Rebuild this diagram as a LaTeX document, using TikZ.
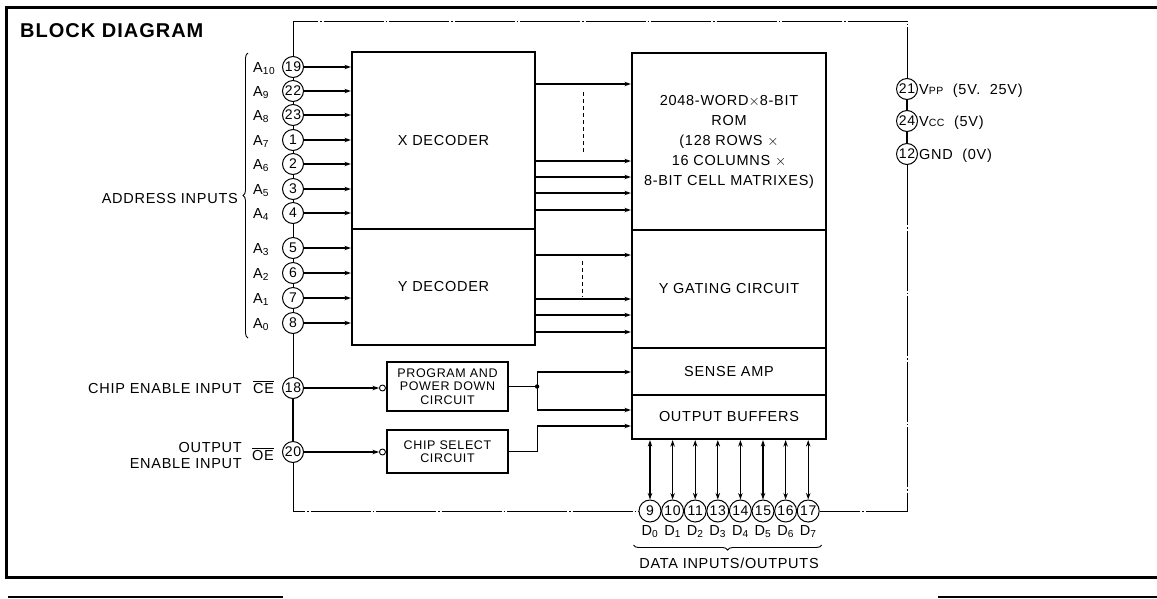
\documentclass[tikz,border=0pt]{standalone}
\usepackage{fontspec}
\setmainfont[LetterSpace=5]{Liberation Sans}
\usetikzlibrary{arrows.meta,decorations.pathreplacing,calc}
\newcommand\fsz[2]{\fontsize{#1}{#2}\selectfont}
\begin{document}
\begin{tikzpicture}[x=1pt,y=-1pt,
  box/.style={draw,line width=2.2pt,inner sep=0pt,align=center,font=\fsz{14.5}{20}},
  smallbox/.style={draw,line width=2.2pt,inner sep=0pt,align=center,font=\fsz{12.5}{13.5}},
  pin/.style={draw,circle,line width=1pt,inner sep=0pt,minimum size=21pt,font=\fsz{14}{14}},
  dpin/.style={draw,circle,line width=1pt,inner sep=0pt,minimum size=22pt,font=\fsz{14}{14}},
  lbl/.style={inner sep=0pt,font=\fsz{14.5}{16}},
  arr/.style={-{Stealth[length=6.5pt,width=4.5pt]},line width=1.1pt},
  darr/.style={{Stealth[length=6.5pt,width=4.5pt]}-{Stealth[length=6.5pt,width=4.5pt]},line width=1.1pt},
  wire/.style={line width=1.1pt},
  chip/.style={line width=0.9pt,dash pattern=on 60pt off 2pt on 1.5pt off 2pt},
  bubble/.style={circle,draw,inner sep=0pt,minimum size=6pt,line width=0.9pt},
  brc/.style={decorate,decoration={brace,amplitude=5pt},line width=0.9pt}]
\useasboundingbox (0,0) rectangle (1157,598);
\fill[white] (0,0) rectangle (1157,598);
% frame
\draw[line width=3pt] (1157,7) -- (6,7) -- (6,577) -- (1157,577);
\draw[line width=1.8pt] (8,597) -- (283,597);
\draw[line width=1.8pt] (938,597) -- (1157,597);
\node[anchor=base west,inner sep=0pt,font=\bfseries\fsz{20}{22}] (title) at (20,37) {BLOCK DIAGRAM};

% blocks
\node[box,minimum width=183pt,minimum height=177pt] (xdec) at (443.5,140.5) {X DECODER};
\node[box,minimum width=183pt,minimum height=116pt] (ydec) at (443.5,287) {Y DECODER};
\node[box,minimum width=194pt,minimum height=177pt] (rom) at (729,141.5) {2048-WORD$\times$8-BIT\\ROM\\(128 ROWS $\times$\\16 COLUMNS $\times$\\8-BIT CELL MATRIXES)};
\node[box,minimum width=194pt,minimum height=118pt] (ygate) at (729,289) {Y GATING CIRCUIT};
\node[box,minimum width=194pt,minimum height=47pt] (sense) at (729,371.5) {SENSE AMP};
\node[box,minimum width=194pt,minimum height=44pt] (ob) at (729,417) {OUTPUT BUFFERS};
\node[smallbox,minimum width=121pt,minimum height=49pt] (prog) at (447.5,386.5) {PROGRAM AND\\POWER DOWN\\CIRCUIT};
\node[smallbox,minimum width=121pt,minimum height=43pt] (cs) at (447.5,451.5) {CHIP SELECT\\CIRCUIT};

% address pins
\foreach \n/\yy/\s [count=\i] in {19/67/10,22/91/9,23/115/8,1/140/7,2/164/6,3/189/5,4/213/4,5/248/3,6/273/2,7/298/1,8/323/0} {
  \node[pin] (pa\i) at (293,\yy) {\n};
  \node[lbl,anchor=base west] (la\i) at (253,\yy+5) {A\textsubscript{\s}};
  \ifnum\i<8
    \draw[arr] (pa\i.east) -- (pa\i.east -| xdec.west);
  \else
    \draw[arr] (pa\i.east) -- (pa\i.east -| ydec.west);
  \fi
}
\foreach \i [evaluate=\i as \j using int(\i+1)] in {1,...,10} {
  \draw[chip] (pa\i.south) -- (pa\j.north);
}
\coordinate (bt) at (248,53);
\coordinate (bb) at (248,338);
\draw[brc] (bb) -- (bt);
\node[lbl,anchor=base east] (addr) at (238,203) {ADDRESS INPUTS};

% control pins
\node[pin] (p18) at (293,388) {18};
\node[pin] (p20) at (293,452) {20};
\draw[chip] (pa11.south) -- (p18.north);
\draw[wire] (p18.south) -- (p20.north);
\node[lbl,anchor=base east] (cel) at (242,393) {CHIP ENABLE INPUT};
\node[lbl,anchor=base west] (ce) at (253,393) {$\overline{\mbox{CE}}$};
\node[lbl,anchor=base east,align=right,font=\fsz{14.5}{16}] (oel) at (242,468) {OUTPUT\\ENABLE INPUT};
\node[lbl,anchor=base west] (oe) at (252,460) {$\overline{\mbox{OE}}$};

\node[bubble,anchor=east] (b1) at (prog.west |- p18) {};
\node[bubble,anchor=east] (b2) at (cs.west |- p20) {};
\draw[arr] (p18.east) -- (b1.west);
\draw[arr] (p20.east) -- (b2.west);

\coordinate (j1) at ($(prog.east)+(28,0)$);
\coordinate (ysa) at (0,372);
\coordinate (yob1) at (0,410);
\coordinate (yob2) at (0,426);
\draw[wire] (prog.east) -- (j1);
\fill (j1) circle (2.2pt);
\draw[arr] (j1) |- (sense.west |- ysa);
\draw[arr] (j1) |- (ob.west |- yob1);
\coordinate (j2) at (j1 |- yob2);
\draw[arr] (cs.east) -| (j2) -- (ob.west |- yob2);

% decoder to array
\foreach \yy in {84,161,177,193,210} {
  \coordinate (t) at (0,\yy);
  \draw[arr] (xdec.east |- t) -- (rom.west |- t);
}
\draw[line width=0.8pt,dash pattern=on 4pt off 3pt] (583,92) -- (583,152);
\foreach \yy in {255,299,315,332} {
  \coordinate (t) at (0,\yy);
  \draw[arr] (ydec.east |- t) -- (ygate.west |- t);
}
\draw[line width=0.8pt,dash pattern=on 4pt off 3pt] (582,261) -- (582,297);

% data pins
\foreach \n [count=\i] in {9,10,11,13,14,15,16,17} {
  \pgfmathsetmacro\xx{650+(\i-1)*22.6}
  \pgfmathtruncatemacro\k{\i-1}
  \node[dpin] (d\i) at (\xx,511) {\n};
  \node[lbl,anchor=base] (dl\i) at (\xx,535) {D\textsubscript{\k}};
  \draw[darr] (d\i.north) -- (d\i.north |- ob.south);
}
\draw[brc] ($(d8.east |- 0,545)+(2,0)$) coordinate (dbr) -- ($(d1.west |- 0,545)+(-5,0)$) coordinate (dbl);
\node[lbl,anchor=base] (dio) at (729,568) {DATA INPUTS/OUTPUTS};

% power pins
\node[pin] (pv1) at (907,89) {21};
\node[pin] (pv2) at (907,121) {24};
\node[pin] (pv3) at (907,154) {12};
\draw[wire] (pv1.south) -- (pv2.north);
\draw[wire] (pv2.south) -- (pv3.north);
\node[lbl,anchor=base west] (v1) at (919,94) {V{\fsz{10.5}{10}PP}\ \ (5V. \ 25V)};
\node[lbl,anchor=base west] (v2) at (919,126) {V{\fsz{10.5}{10}CC}\ \ (5V)};
\node[lbl,anchor=base west] (v3) at (919,159) {GND \ (0V)};

% chip outline
\coordinate (tr) at (907,21);
\draw[chip] (pa1.north) |- (tr) -- (pv1.north);
\draw[chip] (pv3.south) |- (d8.east);
\draw[chip] (p20.south) |- (d1.west);
\end{tikzpicture}
\end{document}
